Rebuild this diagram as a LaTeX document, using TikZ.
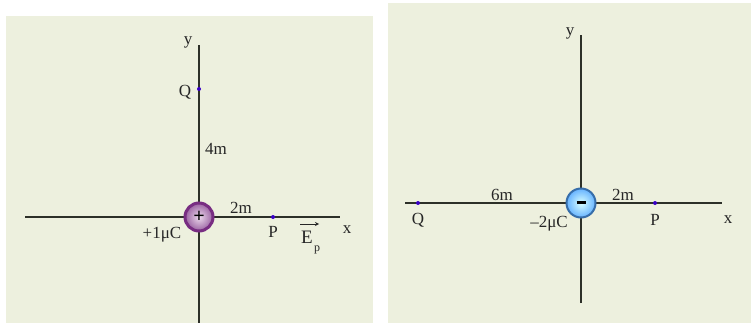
\documentclass[tikz,border=0pt]{standalone}
\usepackage{fontspec}
\setmainfont{Liberation Serif}
\definecolor{paper}{RGB}{237,240,222}
\definecolor{axisgray}{RGB}{45,48,40}
\definecolor{ringpurple}{RGB}{120,45,130}
\definecolor{ringblue}{RGB}{55,110,170}

\begin{document}
\begin{tikzpicture}[x=1pt, y=-1pt,
    axis/.style={draw=axisgray, line width=1.8pt},
    lbl/.style={inner sep=0pt, text=black!85, font=\fontsize{17}{17}\selectfont},
    dot/.style={circle, fill=blue!55!violet, inner sep=0pt, minimum size=4pt},
    poscharge/.style={circle, draw=ringpurple, line width=3pt, inner color=violet!15!white, outer color=ringpurple!75, minimum size=28pt, inner sep=0pt, font=\bfseries\fontsize{20}{20}\selectfont},
    negcharge/.style={circle, draw=ringblue, line width=2pt, inner color=cyan!15!white, outer color=cyan!50!blue!60, minimum size=29pt, inner sep=0pt, font=\bfseries\fontsize{20}{20}\selectfont}]
    \useasboundingbox (0,0) rectangle (751,323);
    \fill[paper] (6,16) rectangle (373,323);
    \fill[paper] (388,3) rectangle (751,323);

    % left: +1 muC at the origin
    \coordinate (ytopA) at (199,45);
    \coordinate (ybotA) at (199,323);
    \coordinate (xleftA) at (25,217);
    \coordinate (xrightA) at (340,217);
    \draw[axis] (ybotA) -- (ytopA);
    \draw[axis] (xleftA) -- (xrightA);
    \node[poscharge] (qA) at (199,217) {+};
    \node[dot] (QA) at (199,89) {};
    \node[dot] (PA) at (273,217) {};
    \node[lbl] (yA) at (188,42) {y};
    \node[lbl] (xA) at (347,230) {x};
    \node[lbl] (QlabA) at (185,92) {Q};
    \node[lbl] (dA) at (216,149) {4m};
    \node[lbl] (eA) at (241,208) {2m};
    \node[lbl] (PlabA) at (273,232) {P};
    \node[lbl] (chargeA) at (162,235) {+1μC};
    \node[lbl, font=\fontsize{19}{19}\selectfont] (EA) at (307,237) {E};
    \node[lbl, font=\fontsize{12}{12}\selectfont] (pA) at (317,250) {p};
    \coordinate (arrA) at (300,224);
    \coordinate (arrB) at (319,224);
    \draw[-stealth, line width=0.8pt, black!85] (arrA) -- (arrB);

    % right: -2 muC at the origin
    \coordinate (ytopB) at (581,35);
    \coordinate (ybotB) at (581,303);
    \coordinate (xleftB) at (405,203);
    \coordinate (xrightB) at (722,203);
    \draw[axis] (ybotB) -- (ytopB);
    \draw[axis] (xleftB) -- (xrightB);
    \node[negcharge] (qB) at (581,203) {\raisebox{1pt}{\rule{9pt}{2.4pt}}};
    \node[dot] (QB) at (418,203) {};
    \node[dot] (PB) at (655,203) {};
    \node[lbl] (yB) at (570,33) {y};
    \node[lbl] (xB) at (728,220) {x};
    \node[lbl] (QlabB) at (418,220) {Q};
    \node[lbl] (dB) at (502,195) {6m};
    \node[lbl] (eB) at (623,195) {2m};
    \node[lbl] (PlabB) at (655,220) {P};
    \node[lbl] (chargeB) at (549,224) {–2μC};
  \end{tikzpicture}
\end{document}
